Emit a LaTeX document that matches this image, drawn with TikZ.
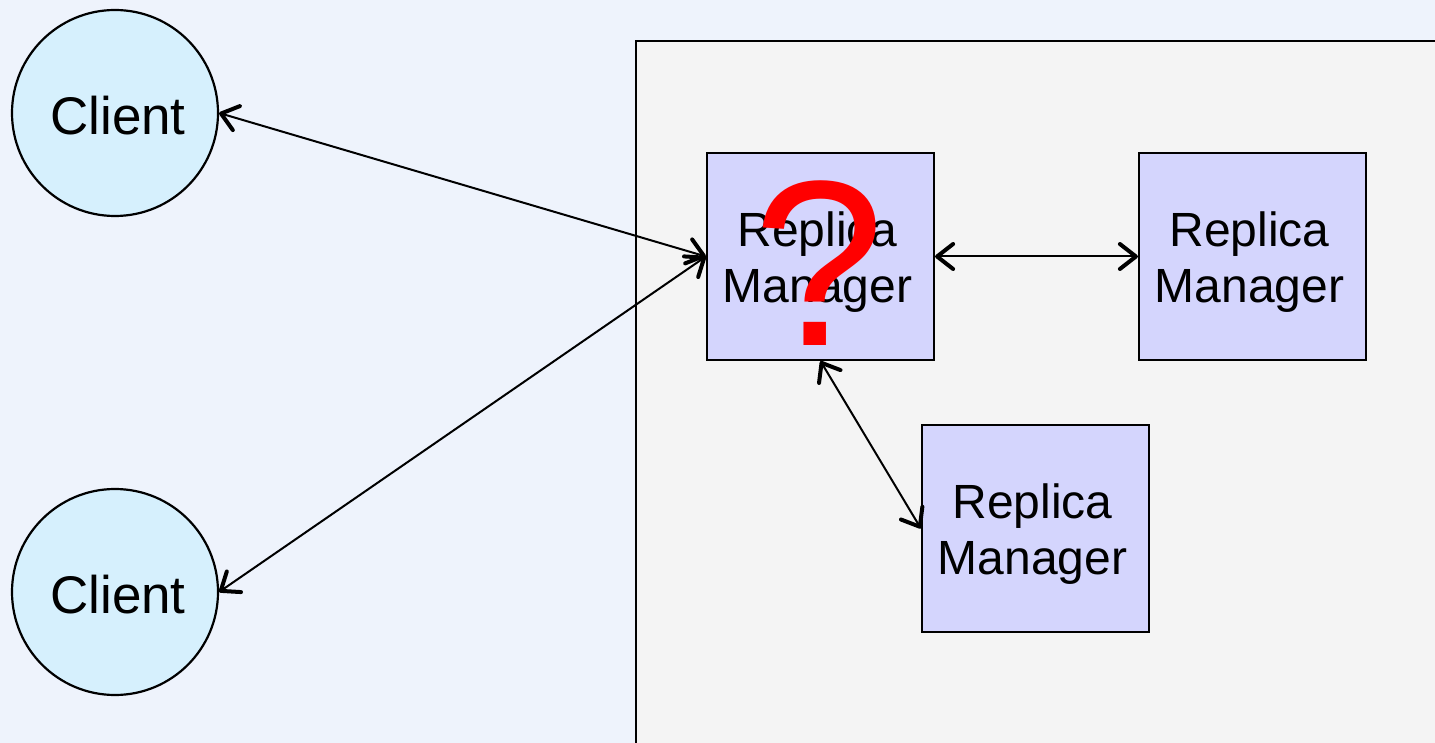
\documentclass[tikz,border=0pt]{standalone}
\usepackage{fontspec}
\setmainfont{Liberation Sans}
\usetikzlibrary{arrows.meta}
\definecolor{pagebg}{HTML}{EEF3FC}
\definecolor{groupbg}{HTML}{F4F4F4}
\definecolor{clientfill}{HTML}{D6F0FD}
\definecolor{rmfill}{HTML}{D4D5FD}
% two-line label of a replica manager, set a little low and left in its box
\newcommand{\rmlabel}{\hspace*{-3pt}\raisebox{-3.5pt}[\height][\depth]{\begin{tabular}{@{}c@{}}Replica\\Manager\end{tabular}}}
\newcommand{\clientlabel}{\hspace*{3pt}\raisebox{-1.5pt}[\height][\depth]{Client}}
\tikzset{
  client/.style={circle, draw=black, line width=1.1pt, fill=clientfill,
    minimum size=103pt, inner sep=0pt, font=\fontsize{26.5pt}{30pt}\selectfont},
  rm/.style={rectangle, draw=black, line width=1.1pt, fill=rmfill,
    minimum width=113.5pt, minimum height=103.5pt, inner sep=0pt,
    font=\fontsize{24pt}{28pt}\selectfont},
  barb/.tip={Straight Barb[length=8pt,width=12.5pt,line width=2pt,round]},
  link/.style={line width=1pt, barb-barb}
}
\begin{document}
\begin{tikzpicture}[x=0.5pt,y=-0.5pt]
  \useasboundingbox (0,0) rectangle (1435,743);
  \clip (0,0) rectangle (1435,743);
  \fill[pagebg] (0,0) rectangle (1435,743);
  % the group of replica managers, running off the page
  \draw[line width=1.2pt, fill=groupbg] (636,790) -- (636,41) -- (1480,41) -- (1480,790) -- cycle;

  \node[client] (c1) at (115,113) {\clientlabel};
  \node[client] (c2) at (115,592) {\clientlabel};

  \node[rm] (rm1) at (820.5,256.5) {\rmlabel};
  \node[rm] (rm2) at (1252.5,256.5) {\rmlabel};
  \node[rm] (rm3) at (1035.5,528.5) {\rmlabel};

  \node[text=red, font=\fontsize{118pt}{118pt}\selectfont, inner sep=0pt]
    (q) at (819,263) {?};

  \draw[link] (c1.east) -- (rm1.west);
  \draw[link] (c2.east) -- (rm1.west);
  \draw[link] (rm1.east) -- (rm2.west);
  \draw[link] (rm1.south) -- (rm3.west);
\end{tikzpicture}
\end{document}
